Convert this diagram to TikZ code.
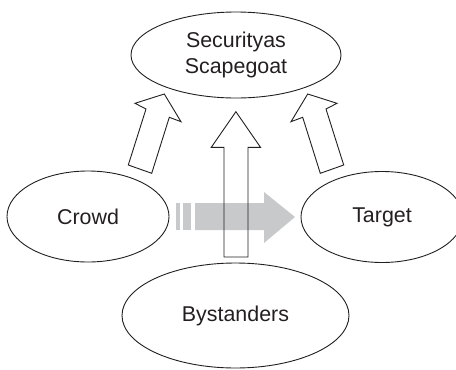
\documentclass[tikz,border=0pt]{standalone}
\usepackage{fontspec}
\setmainfont{Liberation Sans}
\usetikzlibrary{shapes.geometric}
\definecolor{ink}{RGB}{35,31,32}
\definecolor{flowgray}{RGB}{200,201,202}
\begin{document}
\begin{tikzpicture}[x=1pt,y=-1pt,
  actor/.style={draw=ink, line width=0.9pt, ellipse, inner sep=0pt,
    text=ink, font=\fontsize{21.4}{26}\selectfont, align=center},
  blockarrow/.style={draw=ink, line width=0.9pt, line join=miter, fill=white},
  flow/.style={fill=flowgray}]
\useasboundingbox (0,0) rectangle (456,370);

% actors
\node[actor, minimum width=210pt, minimum height=86pt] (scape) at (236,55) {Securityas\\Scapegoat};
\node[actor, minimum width=162pt, minimum height=91pt] (crowd) at (88,216.5) {Crowd};
\node[actor, minimum width=162pt, minimum height=91pt] (target) at (382,217) {Target};
\node[actor, minimum width=227pt, minimum height=105pt] (bystand) at (235.5,315.5) {Bystanders};

% grey flow from crowd to target
\fill[flow] (176,203) rectangle (180,230);
\fill[flow] (183,203) rectangle (191,230);
\fill[flow] (195,203) -- (264,203) -- (264,192) -- (295,217)
  -- (264,243) -- (264,230) -- (195,230) -- cycle;

% crowd towards the scapegoat
\draw[blockarrow] (128.3,165) -- (146,109) -- (135,103.3) -- (164.3,94)
  -- (181,121.7) -- (169.3,117.3) -- (151.7,173.3) -- cycle;
% target towards the scapegoat
\draw[blockarrow] (343.7,165) -- (326,109) -- (337,103.3) -- (307.7,94)
  -- (291,121.7) -- (302.7,117.3) -- (320.3,173.3) -- cycle;
% bystanders towards the scapegoat (outline only, over the grey flow)
\draw[blockarrow, fill=none] (224,257) -- (224,147.3) -- (211.3,147.3) -- (235.9,111.7)
  -- (260.5,147.3) -- (248,147.3) -- (248,257) -- cycle;
\end{tikzpicture}
\end{document}
